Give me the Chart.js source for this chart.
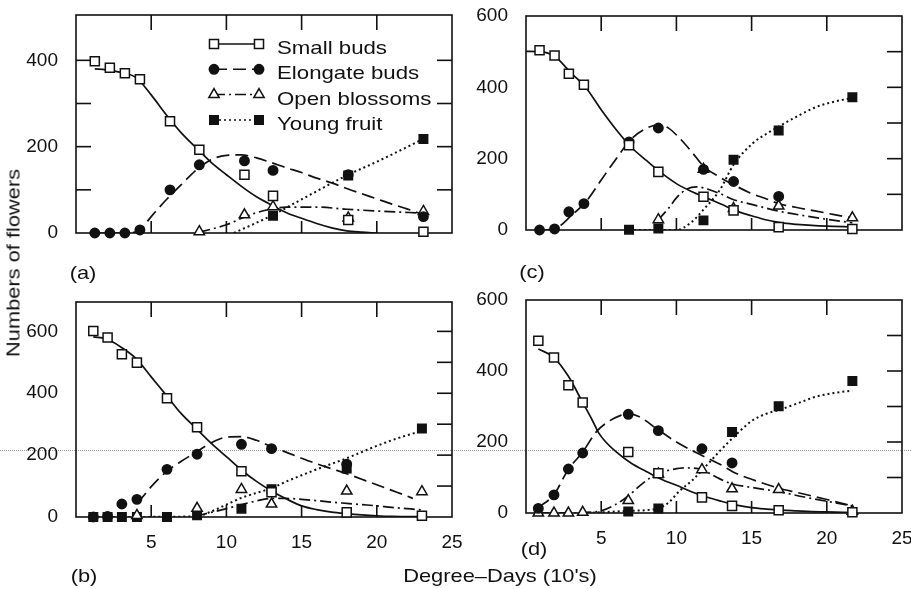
<!DOCTYPE html>
<html>
<head>
<meta charset="utf-8">
<script src="https://cdn.jsdelivr.net/npm/chart.js@4.4.0/dist/chart.umd.min.js"></script>
<style>
  body { margin: 0; background: #fff; }
  #wrap { position: relative; width: 911px; height: 589px; overflow: hidden;
          font-family: 'Liberation Sans', Arial, sans-serif; color: #111; }
  canvas { position: absolute; left: 0; top: 0; }
  .lbl { position: absolute; font-size: 19px; white-space: nowrap; line-height: 1; }
  .scan { position: absolute; left: 0; top: 450px; width: 911px; border-top: 1px dotted #9a9a9a; }
</style>
</head>
<body>
<div id="wrap">
  <div class="scan"></div>
  <canvas id="pa" width="911" height="589"></canvas>
  <canvas id="pb" width="911" height="589"></canvas>
  <canvas id="pc" width="911" height="589"></canvas>
  <canvas id="pd" width="911" height="589"></canvas>
  <div class="lbl" style="left:83px;top:272px;transform:translate(-50%,-50%) scaleX(1.15)">(a)</div>
  <div class="lbl" style="left:532px;top:271px;transform:translate(-50%,-50%) scaleX(1.15)">(c)</div>
  <div class="lbl" style="left:84px;top:575px;transform:translate(-50%,-50%) scaleX(1.15)">(b)</div>
  <div class="lbl" style="left:534px;top:548px;transform:translate(-50%,-50%) scaleX(1.15)">(d)</div>
  <div class="lbl" style="left:500px;top:575px;transform:translate(-50%,-50%) scaleX(1.15)">Degree–Days (10's)</div>
  <div class="lbl" style="left:13px;top:263px;transform:translate(-50%,-50%) rotate(-90deg) scaleX(1.15)">Numbers of flowers</div>
</div>
<script>
// tick marks and series names
const xMarks = [5, 10, 15, 20];
const yMarkStep = 100;
const seriesNames = ['Small buds', 'Elongate buds', 'Open blossoms', 'Young fruit'];

// (a)
const daysA  = [1.25, 2.25, 3.25, 4.25, 6.25, 8.2, 11.2, 13.1, 18.1, 23.1];
const smallA = [398, 383, 370, 356, 259, 193, 135, 86, 30, 3];
const elongA = [0, 0, 0, 7, 100, 158, 167, 145, 135, 38];
const openA  = [null, null, null, null, null, 3, 42, 61, 35, 50];
const fruitA = [null, null, null, null, null, null, null, 40, 133, 218];
const smallFitA = [[1.25,380],[2,378],[3,372],[4,360],[5,320],[6,274],[7,232],[8,197],[9,163],[10,135],[11,108],[12,84],[13,65],[14,47],[15,34],[16,22],[17,12],[18,5],[19,2],[20,0]];
const elongFitA = [[1.25,0],[3.3,0],[4.2,6],[5,38],[6,77],[7,112],[8,146],[9,170],[10,180],[11,181],[12,174],[13,163],[14,151],[15,140],[16,127],[17,116],[18,103],[19,91],[20,79],[21,67],[22,56],[23.1,42]];
const openFitA  = [[8.2,2],[9,9],[10,19],[11,34],[12,47],[13,56],[14,60],[15,60],[16,60],[18,55],[20,51],[23.1,46]];
const fruitFitA = [[10.5,0],[13.1,42],[15,78],[18.1,135],[20,165],[23.1,218]];

// (b)
const daysB  = [1.15, 2.1, 3.05, 4.05, 6.05, 8.05, 11.0, 13.0, 18.0, 23.0];
const smallB = [601, 580, 526, 499, 384, 290, 148, 80, 15, 4];
const elongB = [0, 2, 42, 57, 154, 203, 235, 221, 171, null];
const openB  = [null, null, null, 5, null, 28, 89, 42, 84, 82];
const fruitB = [0, 0, 0, 0, 0, 6, 27, 90, 157, 286];
const smallFitB = [[1.15,582],[2,576],[3,549],[4,512],[5,453],[6,394],[7,334],[8,286],[9,238],[10,195],[11,152],[12,115],[13,84],[14,58],[15,36],[16,24],[17,16],[18,11],[19,7],[20,4],[21,2],[23,1]];
const elongFitB = [[4.1,45],[5,98],[6,146],[7,180],[8,210],[9,240],[10,258],[11,260],[12,248],[13,227],[14,209],[15,190],[16,172],[17,156],[18,140],[19,122],[20,104],[21,86],[22,68],[22.4,60]];
const openFitB  = [[8,3],[9,15],[10,27],[11,40],[12,52],[13,60],[14,60],[15,57],[16,53],[17,48],[18,44],[19,40],[20,36],[21,31],[22,27],[23,23]];
const fruitFitB = [[1.15,0],[8,2],[9,18],[10,40],[11,62],[12,78],[13,93],[14,115],[15,135],[16,154],[17,172],[18,190],[19,210],[20,230],[21,248],[22,264],[23,278]];

// (c)
const daysC  = [0.9, 1.9, 2.85, 3.85, 6.85, 8.8, 11.8, 13.8, 16.8, 21.7];
const smallC = [504, 489, 438, 407, 238, 163, 93, 55, 8, 3];
const elongC = [0, 3, 51, 74, 247, 286, 170, 136, 94, null];
const openC  = [null, null, null, null, null, 29, 170, 60, 67, 34];
const fruitC = [null, null, null, null, 1, 4, 27, 197, 279, 372];
const smallFitC = [[0,501],[0.9,500],[1.9,487],[3,440],[4,398],[5,337],[6,281],[7,232],[8,195],[9,160],[10,130],[11,108],[12,90],[13,72],[14,53],[15,40],[16,28],[17,20],[18,16],[19,13],[20,11],[21.7,9]];
const elongFitC = [[1.1,0],[2,5],[3,40],[4,80],[5,140],[6,200],[7,255],[8,285],[8.8,295],[9.5,285],[10.2,258],[11,220],[11.8,179],[12.8,150],[13.8,127],[14.9,104],[16,87],[16.8,74],[18,63],[19.3,53],[20.5,43],[21.7,34]];
const openFitC  = [[8.8,29],[9.5,62],[10,90],[10.7,115],[11.35,121],[12.2,113],[13,100],[13.8,85],[15,72],[16.8,53],[18.5,40],[20,30],[21.7,20]];
const fruitFitC = [[6.85,0],[10,0],[11,22],[11.8,57],[12.9,113],[13.8,183],[15.1,244],[16,270],[16.8,290],[18,318],[19.3,345],[20.5,360],[21.7,370]];

// (d)
const daysD  = [0.82, 1.86, 2.82, 3.77, 6.8, 8.8, 11.7, 13.7, 16.8, 21.7];
const smallD = [485, 438, 360, 311, 172, 112, 44, 20, 8, 2];
const elongD = [13, 51, 124, 169, 278, 232, 181, 141, null, null];
const openD  = [0, 0, 0, 2, 35, 110, 122, 68, 66, 5];
const fruitD = [null, null, null, null, 4, 13, null, 228, 301, 372];
const smallFitD = [[0.82,462],[1.86,438],[2.82,385],[3.77,311],[4.4,262],[4.8,228],[5.2,205],[6,172],[7,140],[8,117],[9,95],[10,78],[11,60],[12,45],[13,33],[14,22],[15,15],[16,11],[17,8],[18,6],[19,4],[20,3],[21.7,1]];
const elongFitD = [[0.82,15],[1.86,52],[2.82,123],[3.77,172],[4.7,230],[5.5,258],[6.3,275],[6.8,280],[7.5,272],[8.76,235],[10,200],[11.7,162],[13,135],[13.8,115],[15,95],[16.8,70],[18,58],[20,38],[21.7,20]];
const openFitD  = [[0.82,0],[3.77,1],[4.5,3],[5,6],[6,25],[6.8,48],[7.8,85],[8.8,112],[9.7,122],[10.5,127],[11.7,122],[12.7,100],[13.7,82],[15,72],[16.8,60],[18.5,45],[20,33],[21.7,20]];
const fruitFitD = [[3.77,0],[5,2],[6.8,6],[8.8,13],[9.5,30],[10.2,62],[11,90],[11.7,120],[12.9,175],[14,222],[15.1,262],[16,280],[16.8,290],[18,308],[19.3,328],[20.5,338],[21.7,345]];

const ink = '#111';
Chart.defaults.font.family = "'Liberation Sans', Arial, sans-serif";
Chart.defaults.font.size = 19;
Chart.defaults.color = ink;

const styles = [
  { pointStyle: 'rect',     radius: 6.4, fill: '#fff', dash: [] },
  { pointStyle: 'circle',   radius: 4.7, fill: ink,    dash: [13, 6] },
  { pointStyle: 'triangle', radius: 6,   fill: '#fff', dash: [11, 4, 2, 4] },
  { pointStyle: 'rect',     radius: 6,   fill: ink,    dash: [2, 3] }
];

// one short stroke
function mark(ctx, x1, y1, x2, y2) {
  ctx.beginPath();
  ctx.moveTo(x1, y1);
  ctx.lineTo(x2, y2);
  ctx.stroke();
}

// box round the plot with inward tick marks
const frame = {
  id: 'panelFrame',
  beforeDatasetsDraw(chart, args, opts) {
    const { ctx, chartArea: a } = chart;
    const x = chart.scales.x, y = chart.scales.y;
    ctx.save();
    ctx.setLineDash([]);
    ctx.strokeStyle = ink;
    ctx.lineWidth = 1.6;
    ctx.strokeRect(a.left, a.top, a.right - a.left, a.bottom - a.top);
    xMarks.forEach(v => {
      const px = x.getPixelForValue(v);
      mark(ctx, px, a.top, px, a.top + 15);
      mark(ctx, px, a.bottom, px, a.bottom - 12);
    });
    for (let v = yMarkStep; v < y.max - 20; v += yMarkStep) {
      const py = y.getPixelForValue(v);
      mark(ctx, a.right, py, a.right - 15, py);
      if (opts.leftTicks) mark(ctx, a.left, py, a.left + 15, py);
    }
    ctx.restore();
  }
};

// key drawn inside panel (a)
const keyLegend = {
  id: 'keyLegend',
  afterDatasetsDraw(chart, args, opts) {
    if (!opts.show) return;
    const { ctx, chartArea: a } = chart;
    ctx.save();
    seriesNames.forEach((name, i) => {
      const st = styles[i];
      const base = a.top + 39 + i * 25.3;
      const sy = base - 10;
      const x1 = a.left + 138, x2 = a.left + 183;
      ctx.strokeStyle = ink;
      ctx.lineWidth = 1.5;
      ctx.setLineDash(st.dash);
      mark(ctx, x1, sy, x2, sy);
      ctx.setLineDash([]);
      ctx.fillStyle = st.fill;
      ctx.lineWidth = 1.5;
      [x1, x2].forEach(px => Chart.helpers.drawPoint(ctx, { pointStyle: st.pointStyle, radius: st.radius, borderWidth: 1.5, rotation: 0 }, px, sy));
      ctx.fillStyle = ink;
      ctx.font = "19px 'Liberation Sans', Arial, sans-serif";
      ctx.textBaseline = 'alphabetic';
      ctx.save();
      ctx.translate(a.left + 201, base);
      ctx.scale(1.17, 1);
      ctx.fillText(name, 0, 0);
      ctx.restore();
    });
    ctx.restore();
  }
};

function points(days, vals) {
  return days.map((d, i) => vals[i] == null ? null : { x: d, y: vals[i] }).filter(p => p);
}
function curve(pairs) {
  return pairs.map(([x, y]) => ({ x, y }));
}

function panel(id, area, yMax, showX, leftTicks, showKey, days, obs, fits) {
  const datasets = [];
  obs.forEach((vals, i) => {
    const st = styles[i];
    datasets.push({
      label: seriesNames[i], data: points(days, vals), order: 0, clip: false,
      pointStyle: st.pointStyle, pointRadius: st.radius, pointBackgroundColor: st.fill,
      pointBorderColor: ink, pointBorderWidth: 1.5, showLine: false
    });
  });
  fits.forEach((pairs, i) => {
    datasets.push({
      label: seriesNames[i] + ' fit', data: curve(pairs), order: 1, showLine: true,
      borderColor: ink, borderWidth: i === 3 ? 2 : 1.7, borderDash: styles[i].dash,
      pointRadius: 0, cubicInterpolationMode: 'monotone', fill: false
    });
  });
  new Chart(document.getElementById(id), {
    type: 'scatter',
    data: { datasets },
    options: {
      responsive: false,
      animation: false,
      devicePixelRatio: 1,
      layout: { padding: { left: area.l - 60, top: area.t, right: 911 - area.r, bottom: 589 - area.b - 40 } },
      plugins: {
        legend: { display: false },
        tooltip: { enabled: false },
        panelFrame: { leftTicks },
        keyLegend: { show: showKey }
      },
      scales: {
        x: {
          type: 'linear', min: 0, max: 25,
          grid: { display: false }, border: { display: false },
          ticks: { display: showX, stepSize: 5, padding: 6, maxRotation: 0, autoSkip: false,
                   callback: v => v === 0 ? '' : v },
          afterFit: s => { s.height = 40; s.paddingLeft = 0; s.paddingRight = 0; }
        },
        y: {
          min: 0, max: yMax,
          grid: { display: false }, border: { display: false },
          ticks: { stepSize: 200, padding: 10, callback: v => v % 200 === 0 ? v : '' },
          afterFit: s => { s.width = 60; s.paddingTop = 0; s.paddingBottom = 0; }
        }
      }
    },
    plugins: [frame, keyLegend]
  });
}

panel('pa', { l: 76, t: 15, r: 452, b: 233 }, 505, false, true, true, daysA,
      [smallA, elongA, openA, fruitA], [smallFitA, elongFitA, openFitA, fruitFitA]);
panel('pb', { l: 76, t: 302, r: 452, b: 517 }, 695, true, false, false, daysB,
      [smallB, elongB, openB, fruitB], [smallFitB, elongFitB, openFitB, fruitFitB]);
panel('pc', { l: 526, t: 16, r: 902, b: 230 }, 600, false, false, false, daysC,
      [smallC, elongC, openC, fruitC], [smallFitC, elongFitC, openFitC, fruitFitC]);
panel('pd', { l: 526, t: 300, r: 902, b: 513 }, 600, true, false, false, daysD,
      [smallD, elongD, openD, fruitD], [smallFitD, elongFitD, openFitD, fruitFitD]);
</script>
</body>
</html>
